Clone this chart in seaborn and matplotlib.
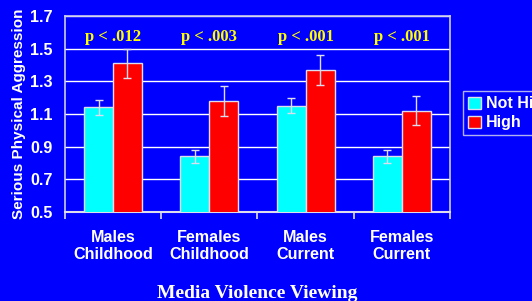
import pandas as pd
import matplotlib
matplotlib.use('Agg')
import matplotlib.pyplot as plt
import seaborn as sns

groups = ['Males\nChildhood', 'Females\nChildhood', 'Males\nCurrent', 'Females\nCurrent']
not_high = [1.14, 0.84, 1.15, 0.84]
high = [1.41, 1.18, 1.37, 1.12]
not_high_err = [0.045, 0.04, 0.045, 0.04]
high_err = [0.09, 0.09, 0.09, 0.09]
p_labels = ['p < .012', 'p < .003', 'p < .001', 'p < .001']
yticks = [0.5, 0.7, 0.9, 1.1, 1.3, 1.5, 1.7]

df = pd.DataFrame({
    'group': groups * 2,
    'viewing': ['Not High'] * 4 + ['High'] * 4,
    'value': not_high + high,
    'err': not_high_err + high_err,
})

sns.set_style('white')
plt.rcParams['font.family'] = ['Liberation Sans', 'DejaVu Sans']
blue = '#0000FF'

fig = plt.figure(figsize=(5.32, 3.01), dpi=100, facecolor=blue)
ax = fig.add_axes([0.122, 0.296, 0.724, 0.651], facecolor=blue)

sns.barplot(data=df, x='group', y='value', hue='viewing', ax=ax,
            palette={'Not High': '#00FFFF', 'High': '#FF0000'}, saturation=1,
            width=0.6, errorbar=None, edgecolor='#DDDDEE', linewidth=1, zorder=3)

# error bars from the drawn patches
bars = [p for p in ax.patches if p.get_height() > 0][:8]
for p, e in zip(bars, df['err']):
    xc = p.get_x() + p.get_width() / 2
    ax.errorbar(xc, p.get_height(), yerr=e, color='#DDDDEE', capsize=3,
                elinewidth=1, capthick=1, zorder=4)

for i, lab in enumerate(p_labels):
    ax.text(i, 1.57, lab, ha='center', va='center', color='#FFFF00',
            fontsize=12, fontweight='bold', family='Liberation Serif')

ax.set_ylim(0.5, 1.7)
ax.set_yticks(yticks)
ax.set_yticklabels([f'{v:.1f}' for v in yticks])
ax.set_xlim(-0.5, 3.5)
ax.yaxis.grid(True, color='white', linewidth=1, zorder=0)
ax.set_axisbelow(True)
for s in ['left', 'right', 'top']:
    ax.spines[s].set_color('#CCCCEE')
    ax.spines[s].set_linewidth(1.2)
ax.spines['bottom'].set_color('#DDDDEE')
ax.spines['bottom'].set_linewidth(1.5)

ax.set_xticks([-0.5, 0.5, 1.5, 2.5, 3.5], minor=True)
ax.tick_params(axis='x', which='minor', length=5, color='#DDDDEE', width=1.2, bottom=True)
ax.tick_params(axis='x', which='major', length=0, pad=13, colors='white', labelsize=11.6)
ax.tick_params(axis='y', length=0, pad=9, colors='white', labelsize=11.6)
for t in ax.get_xticklabels() + ax.get_yticklabels():
    t.set_fontweight('bold')

ax.set_ylabel('Serious Physical Aggression', color='white', fontsize=11,
              fontweight='bold', labelpad=3)
ax.set_xlabel('Media Violence Viewing', color='white', fontsize=14,
              fontweight='bold', family='Liberation Serif', labelpad=16)

leg = ax.legend(loc='upper left', bbox_to_anchor=(1.034, 0.615), frameon=True,
                facecolor=blue, edgecolor='#DDDDEE', fancybox=False,
                prop={'weight': 'bold', 'size': 11.5}, labelcolor='white',
                handlelength=0.8, handleheight=0.8, handletextpad=0.35,
                borderpad=0.3, labelspacing=0.25, borderaxespad=0)
leg.get_frame().set_linewidth(1)

fig.savefig('out.png', dpi=100, facecolor=blue)
